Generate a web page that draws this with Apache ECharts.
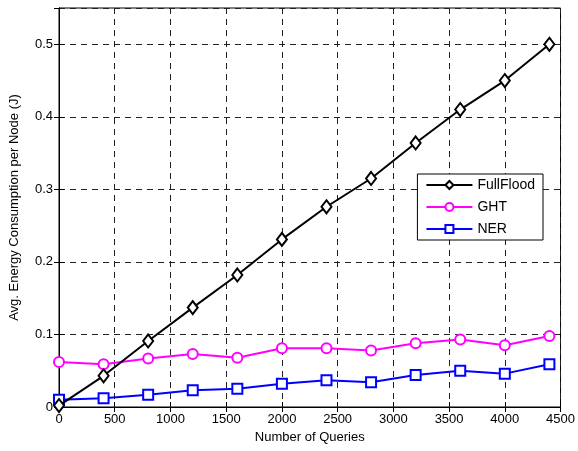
<!DOCTYPE html>
<html>
<head>
<meta charset="utf-8">
<script src="https://cdn.jsdelivr.net/npm/echarts@6/dist/echarts.min.js"></script>
<style>
html, body { margin: 0; padding: 0; background: #fff; }
#main { width: 578px; height: 451px; }
</style>
</head>
<body>
<div id="main"></div>
<script>
var queries = [0, 400, 800, 1200, 1600, 2000, 2400, 2800, 3200, 3600, 4000, 4400];
var fullFlood = [0.002, 0.043, 0.091, 0.137, 0.182, 0.231, 0.276, 0.315, 0.364, 0.410, 0.450, 0.500];
var ght = [0.062, 0.059, 0.067, 0.073, 0.068, 0.081, 0.081, 0.078, 0.088, 0.093, 0.085, 0.098];
var ner = [0.010, 0.012, 0.017, 0.023, 0.025, 0.032, 0.037, 0.034, 0.044, 0.050, 0.046, 0.059];

function pairs(ys) {
    return queries.map(function (q, i) { return [q, ys[i]]; });
}

var chartObj = document.getElementById('main');
var chart = echarts.init(chartObj);

var gridLine = { show: true, lineStyle: { color: '#222', type: [6, 5], width: 1 } };

var option = {
    animation: false,
    textStyle: { fontFamily: 'Liberation Sans, Arial, sans-serif', color: '#000' },
    grid: {
        left: 56, right: 14, top: 8, bottom: 44,
        show: true, borderColor: '#000', borderWidth: 1
    },
    legend: {
        right: 35, top: 174,
        orient: 'vertical',
        backgroundColor: '#fff',
        borderColor: '#000',
        borderWidth: 1,
        padding: [4, 8, 4, 8],
        itemWidth: 46,
        itemHeight: 10,
        itemGap: 8,
        textStyle: { fontSize: 14, color: '#000' },
        data: ['FullFlood', 'GHT', 'NER']
    },
    xAxis: [{
        type: 'value', min: 0, max: 4500, interval: 500,
        name: 'Number of Queries', nameLocation: 'middle', nameGap: 24,
        nameTextStyle: { fontSize: 13, color: '#000' },
        axisLine: { show: true, lineStyle: { color: '#000' } },
        axisTick: { show: true, inside: true, length: 5, lineStyle: { color: '#000' } },
        axisLabel: { fontSize: 13, color: '#000', margin: 6, formatter: function (v) { return String(v); } },
        splitLine: gridLine
    }, {
        type: 'value', min: 0, max: 4500, interval: 500, position: 'top',
        axisLine: { show: true, lineStyle: { color: '#000' } },
        axisTick: { show: true, inside: true, length: 5, lineStyle: { color: '#000' } },
        axisLabel: { show: false }, splitLine: { show: false }
    }],
    yAxis: [{
        type: 'value', min: 0, max: 0.55, interval: 0.1,
        name: 'Avg. Energy Consumption per Node (J)', nameLocation: 'middle', nameGap: 38,
        nameTextStyle: { fontSize: 13, color: '#000' },
        axisLine: { show: true, lineStyle: { color: '#000' } },
        axisTick: { show: true, inside: true, length: 5, lineStyle: { color: '#000' } },
        axisLabel: { fontSize: 13, color: '#000', margin: 6, showMaxLabel: false },
        splitLine: gridLine
    }, {
        type: 'value', min: 0, max: 0.55, interval: 0.1, position: 'right',
        axisLine: { show: true, lineStyle: { color: '#000' } },
        axisTick: { show: true, inside: true, length: 5, lineStyle: { color: '#000' } },
        axisLabel: { show: false }, splitLine: { show: false }
    }],
    series: [
        {
            name: 'FullFlood', type: 'line', data: pairs(fullFlood),
            symbol: 'emptyDiamond', symbolSize: [10, 13],
            lineStyle: { color: '#000', width: 2 },
            itemStyle: { color: '#000', borderWidth: 1.5 },
            z: 3
        },
        {
            name: 'GHT', type: 'line', data: pairs(ght),
            symbol: 'emptyCircle', symbolSize: 10,
            lineStyle: { color: '#ff00ff', width: 2 },
            itemStyle: { color: '#ff00ff', borderWidth: 2 },
            z: 2
        },
        {
            name: 'NER', type: 'line', data: pairs(ner),
            symbol: 'emptyRect', symbolSize: 10,
            lineStyle: { color: '#0000ff', width: 2 },
            itemStyle: { color: '#0000ff', borderWidth: 2 },
            z: 2
        }
    ]
};

chart.setOption(option);
</script>
</body>
</html>
